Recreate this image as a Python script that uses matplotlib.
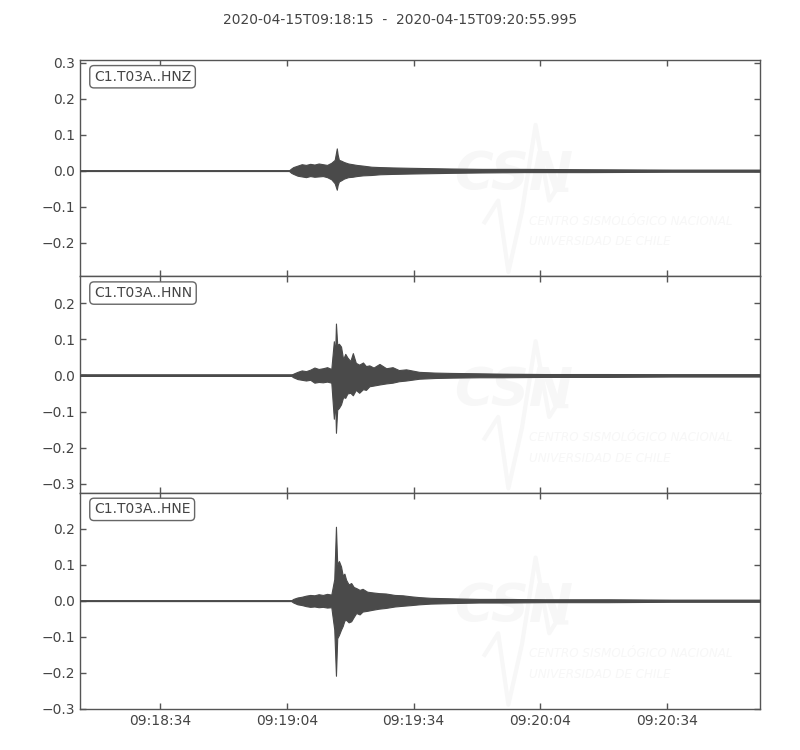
import matplotlib
matplotlib.use('Agg')
import matplotlib.pyplot as plt
import matplotlib.dates as mdates
from datetime import datetime, timedelta

# ---- data (envelope of each trace) ----
start_time = datetime(2020, 4, 15, 9, 18, 15)
duration_s = 160.995
title_text = "2020-04-15T09:18:15  -  2020-04-15T09:20:55.995"
channels = ["C1.T03A..HNZ", "C1.T03A..HNN", "C1.T03A..HNE"]

hnz_t = [0, 49.5, 50.0, 50.5, 51.5, 52.5, 53.5, 54.5, 55.5, 56.5, 57.5, 58.5, 59.5, 60.3, 60.8,
         61.0, 61.3, 61.8, 62.5, 63.5, 64.5, 65.5, 67, 69, 71, 74, 78, 83, 88, 95, 105, 120, 140, 161]
hnz_up = [0.001, 0.001, 0.006, 0.010, 0.014, 0.018, 0.016, 0.019, 0.017, 0.020, 0.018, 0.016, 0.022,
          0.030, 0.062, 0.045, 0.030, 0.028, 0.024, 0.020, 0.018, 0.016, 0.014, 0.011, 0.010, 0.009,
          0.008, 0.007, 0.006, 0.005, 0.005, 0.004, 0.003, 0.003]
hnz_lo = [-0.001, -0.001, -0.006, -0.009, -0.014, -0.016, -0.018, -0.015, -0.017, -0.016, -0.015,
          -0.018, -0.024, -0.035, -0.053, -0.040, -0.030, -0.027, -0.022, -0.018, -0.017, -0.015,
          -0.013, -0.012, -0.010, -0.009, -0.008, -0.007, -0.006, -0.005, -0.004, -0.004, -0.003, -0.003]

hnn_t = [0, 50.0, 50.5, 51.5, 52.5, 53.5, 54.5, 55.5, 56.5, 57.5, 58.5, 59.5, 60.1, 60.4, 60.6, 60.9,
         61.3, 61.8, 62.3, 62.8, 63.3, 64.0, 64.6, 65.3, 66.1, 67.0, 67.7, 68.5, 69.5, 70.9, 72.5,
         74.0, 75.5, 77.2, 80.3, 84, 88, 94.5, 100, 110, 125, 140, 161]
hnn_up = [0.001, 0.001, 0.005, 0.010, 0.014, 0.012, 0.016, 0.022, 0.018, 0.020, 0.023, 0.018, 0.095,
          0.060, 0.144, 0.085, 0.088, 0.080, 0.045, 0.060, 0.050, 0.040, 0.062, 0.035, 0.030, 0.036,
          0.026, 0.028, 0.022, 0.032, 0.020, 0.023, 0.015, 0.017, 0.010, 0.008, 0.007, 0.006, 0.005,
          0.004, 0.004, 0.003, 0.003]
hnn_lo = [-0.001, -0.001, -0.005, -0.010, -0.012, -0.014, -0.012, -0.020, -0.018, -0.019, -0.017,
          -0.020, -0.120, -0.070, -0.159, -0.095, -0.090, -0.080, -0.060, -0.062, -0.050, -0.048,
          -0.055, -0.040, -0.048, -0.038, -0.040, -0.030, -0.028, -0.025, -0.022, -0.020, -0.016,
          -0.014, -0.009, -0.007, -0.006, -0.005, -0.005, -0.004, -0.004, -0.003, -0.003]

hne_t = [0, 50.0, 50.5, 51.5, 52.5, 53.5, 54.5, 55.5, 56.5, 57.5, 58.5, 59.5, 60.2, 60.6, 60.9, 61.3,
         61.8, 62.2, 62.6, 63.0, 63.6, 64.2, 64.8, 65.4, 66.2, 66.9, 68, 69.3, 70.8, 72.4, 74.5, 76.4,
         78.5, 80.3, 83, 86.6, 90, 94.5, 100, 110, 125, 140, 161]
hne_up = [0.001, 0.001, 0.005, 0.009, 0.011, 0.014, 0.016, 0.015, 0.018, 0.016, 0.019, 0.017, 0.060,
          0.205, 0.100, 0.110, 0.095, 0.070, 0.075, 0.058, 0.045, 0.049, 0.038, 0.035, 0.030, 0.033,
          0.025, 0.023, 0.021, 0.020, 0.016, 0.015, 0.012, 0.010, 0.008, 0.007, 0.006, 0.005, 0.005,
          0.004, 0.004, 0.003, 0.003]
hne_lo = [-0.001, -0.001, -0.005, -0.010, -0.012, -0.015, -0.017, -0.016, -0.018, -0.017, -0.019,
          -0.018, -0.080, -0.208, -0.104, -0.095, -0.080, -0.070, -0.055, -0.053, -0.060, -0.057,
          -0.045, -0.034, -0.038, -0.030, -0.028, -0.025, -0.022, -0.020, -0.016, -0.014, -0.012,
          -0.010, -0.008, -0.007, -0.006, -0.005, -0.005, -0.004, -0.004, -0.003, -0.003]

y_limits = [(-0.294, 0.308), (-0.325, 0.275), (-0.3, 0.2995)]
y_ticks = [[-0.2, -0.1, 0.0, 0.1, 0.2, 0.3],
           [-0.3, -0.2, -0.1, 0.0, 0.1, 0.2],
           [-0.3, -0.2, -0.1, 0.0, 0.1, 0.2]]

# ---- styling ----
plt.rcParams['font.family'] = ['DejaVu Sans']
plt.rcParams['font.size'] = 10
TRACE = '#4a4a4a'
TEXT = '#444444'
SPINE = '#555555'
WM = '#f7f7f7'

fig = plt.figure(figsize=(8, 7.5), dpi=100)
left, right, top, bottom = 0.1, 0.95, 0.92, 0.0547
h = (top - bottom) / 3.0

x0 = mdates.date2num(start_time)
x1 = mdates.date2num(start_time + timedelta(seconds=duration_s))

traces = [(hnz_t, hnz_up, hnz_lo), (hnn_t, hnn_up, hnn_lo), (hne_t, hne_up, hne_lo)]
axes = []
for i, (tt, up, lo) in enumerate(traces):
    ax = fig.add_axes([left, top - (i + 1) * h, right - left, h])
    axes.append(ax)
    xs = [mdates.date2num(start_time + timedelta(seconds=s)) for s in tt]

    # watermark (very faint)
    wm_kw = dict(transform=ax.transAxes, color=WM, ha='left', va='center', zorder=0, clip_on=True)
    ax.text(0.55, 0.47, "CSN", fontsize=38, fontweight='bold', fontstyle='italic', **wm_kw)
    ax.plot([0.595, 0.615, 0.63, 0.65, 0.67, 0.69, 0.70, 0.715],
            [0.25, 0.35, 0.02, 0.30, 0.70, 0.35, 0.40, 0.40],
            transform=ax.transAxes, color=WM, lw=3, zorder=0)
    ax.text(0.66, 0.255, "CENTRO SISMOLÓGICO NACIONAL", fontsize=9.5, fontstyle='italic',
            fontstretch='condensed', **wm_kw)
    ax.text(0.66, 0.16, "UNIVERSIDAD DE CHILE", fontsize=9.5, fontstyle='italic',
            fontstretch='condensed', **wm_kw)

    ax.axhline(0, color=TRACE, lw=1.2, zorder=2)
    ax.fill_between(xs, lo, up, color=TRACE, lw=0.8, edgecolor=TRACE, zorder=3)

    ax.set_xlim(x0, x1)
    ax.set_ylim(*y_limits[i])
    ax.set_yticks(y_ticks[i])
    ax.xaxis.set_major_locator(mdates.SecondLocator(bysecond=[4, 34]))
    ax.xaxis.set_major_formatter(mdates.DateFormatter('%H:%M:%S'))
    ax.tick_params(direction='in', top=True, right=True, length=4, width=1,
                   colors=SPINE, labelcolor=TEXT, labelsize=10)
    if i < 2:
        ax.tick_params(labelbottom=False)
    for sp in ax.spines.values():
        sp.set_color(SPINE)
        sp.set_linewidth(1.0)
    ax.text(0.0205, 0.955, channels[i], transform=ax.transAxes, ha='left', va='top',
            fontsize=10, color=TEXT, zorder=5,
            bbox=dict(boxstyle='round,pad=0.3', fc='white', ec='#666666', lw=1.0))

fig.text(0.5, 0.973, title_text, ha='center', va='center', fontsize=10, color=TEXT)

fig.savefig('out.png', dpi=100)
